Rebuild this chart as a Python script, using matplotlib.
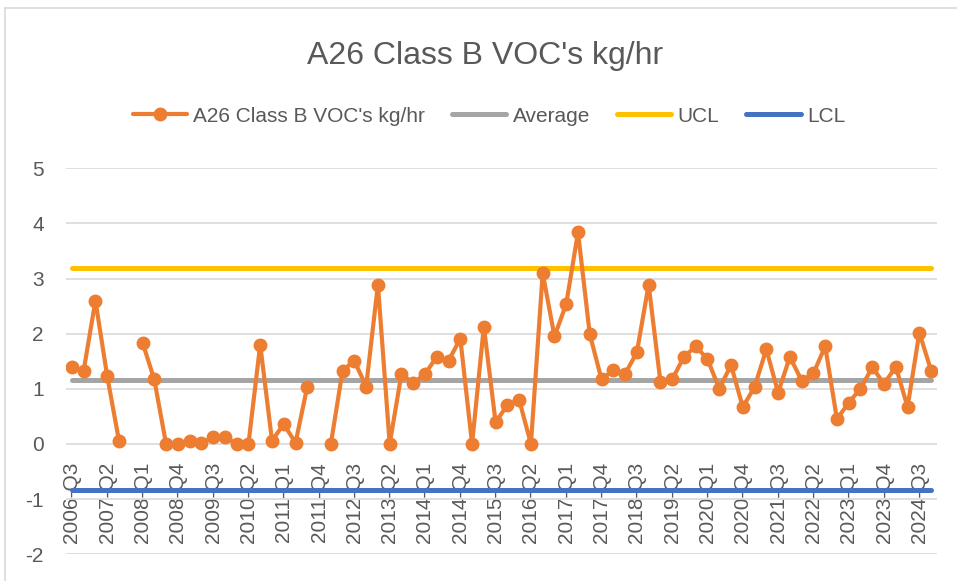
import numpy as np
import matplotlib
matplotlib.use("Agg")
import matplotlib.pyplot as plt
from matplotlib.lines import Line2D

plt.rcParams["axes.unicode_minus"] = False

quarters = [
    "2006-Q3", "2006-Q4",
    "2007-Q1", "2007-Q2", "2007-Q3", "2007-Q4",
    "2008-Q1", "2008-Q2", "2008-Q3", "2008-Q4",
    "2009-Q1", "2009-Q2", "2009-Q3", "2009-Q4",
    "2010-Q1", "2010-Q2", "2010-Q3", "2010-Q4",
    "2011-Q1", "2011-Q2", "2011-Q3", "2011-Q4",
    "2012-Q1", "2012-Q2", "2012-Q3", "2012-Q4",
    "2013-Q1", "2013-Q2", "2013-Q3", "2013-Q4",
    "2014-Q1", "2014-Q2", "2014-Q3", "2014-Q4",
    "2015-Q1", "2015-Q2", "2015-Q3", "2015-Q4",
    "2016-Q1", "2016-Q2", "2016-Q3", "2016-Q4",
    "2017-Q1", "2017-Q2", "2017-Q3", "2017-Q4",
    "2018-Q1", "2018-Q2", "2018-Q3", "2018-Q4",
    "2019-Q1", "2019-Q2", "2019-Q3", "2019-Q4",
    "2020-Q1", "2020-Q2", "2020-Q3", "2020-Q4",
    "2021-Q1", "2021-Q2", "2021-Q3", "2021-Q4",
    "2022-Q1", "2022-Q2", "2022-Q3", "2022-Q4",
    "2023-Q1", "2023-Q2", "2023-Q3", "2023-Q4",
    "2024-Q1", "2024-Q2", "2024-Q3", "2024-Q4",
]

voc = [
    1.40, 1.33, 2.60, 1.23, 0.06, np.nan,
    1.84, 1.17, 0.00, 0.00, 0.06, 0.01, 0.12, 0.12, 0.00, 0.00,
    1.80, 0.06, 0.36, 0.02, 1.04, np.nan,
    0.00, 1.33, 1.51, 1.04, 2.89, 0.00, 1.27, 1.10,
    1.27, 1.58, 1.51, 1.91, 0.00, 2.13, 0.39, 0.71,
    0.80, 0.00, 3.10, 1.95, 2.54, 3.84, 1.99, 1.17,
    1.34, 1.27, 1.66, 2.89, 1.13, 1.17, 1.58, 1.77,
    1.54, 1.00, 1.43, 0.67, 1.03, 1.72, 0.93, 1.58,
    1.15, 1.28, 1.77, 0.45, 0.75, 1.00, 1.39, 1.09,
    1.40, 0.67, 2.02, 1.33,
]

average = 1.16
ucl = 3.20
lcl = -0.835

x = np.arange(len(quarters))

fig = plt.figure(figsize=(9.57, 5.81), dpi=100)
ax = fig.add_axes([66 / 957, 1 - 554.2 / 581, 871 / 957, (554.2 - 168.3) / 581])

tick_color = "#595959"
font = "Liberation Sans"

ax.plot(x, np.full(len(x), average), color="#A5A5A5", lw=3.6, solid_capstyle="round", zorder=3, label="Average")
ax.plot(x, np.full(len(x), ucl), color="#FFC000", lw=3.6, solid_capstyle="round", zorder=3, label="UCL")
ax.plot(x, np.full(len(x), lcl), color="#4472C4", lw=3.6, solid_capstyle="round", zorder=3, label="LCL")
ax.plot(x, voc, color="#ED7D31", lw=3.0, marker="o", markersize=9, solid_capstyle="round",
        solid_joinstyle="round", zorder=4, label="A26 Class B VOC's kg/hr")

ax.set_xlim(-0.5, len(x) - 0.5)
ax.set_ylim(-2, 5)
ax.set_yticks(range(-2, 6))
ax.grid(axis="y", color="#D9D9D9", lw=1.2, zorder=0)
ax.set_axisbelow(True)
for s in ax.spines.values():
    s.set_visible(False)
ax.spines["bottom"].set_position(("data", 0))

ax.set_xticks(x[::3])
ax.set_xticklabels(quarters[::3], rotation=90, fontsize=15, color=tick_color, family=font)
ax.tick_params(axis="x", length=0, pad=13)
ax.tick_params(axis="y", length=0, pad=16, labelsize=15, labelcolor=tick_color)
for lab in ax.get_yticklabels():
    lab.set_family(font)

fig.text(0.507, 1 - 56 / 581, "A26 Class B VOC's kg/hr", ha="center", va="center",
         fontsize=23, color="#595959", family=font)

handles = [
    Line2D([], [], color="#ED7D31", lw=3.0, marker="o", markersize=9, solid_capstyle="round"),
    Line2D([], [], color="#A5A5A5", lw=3.6, solid_capstyle="round"),
    Line2D([], [], color="#FFC000", lw=3.6, solid_capstyle="round"),
    Line2D([], [], color="#4472C4", lw=3.6, solid_capstyle="round"),
]
labels = ["A26 Class B VOC's kg/hr", "Average", "UCL", "LCL"]
fig.legend(handles, labels, loc="center", bbox_to_anchor=(0.511, 1 - 116 / 581), ncol=4,
           frameon=False, handlelength=2.6, handletextpad=0.3, columnspacing=1.3,
           prop={"family": font, "size": 15}, labelcolor=tick_color)

fig.add_artist(Line2D([5 / 957, 5 / 957], [0, 1 - 8 / 581], transform=fig.transFigure, color="#D9D9D9", lw=1.2))
fig.add_artist(Line2D([5 / 957, 1], [1 - 8 / 581, 1 - 8 / 581], transform=fig.transFigure, color="#D9D9D9", lw=1.2))

fig.savefig("out.png", dpi=100)
